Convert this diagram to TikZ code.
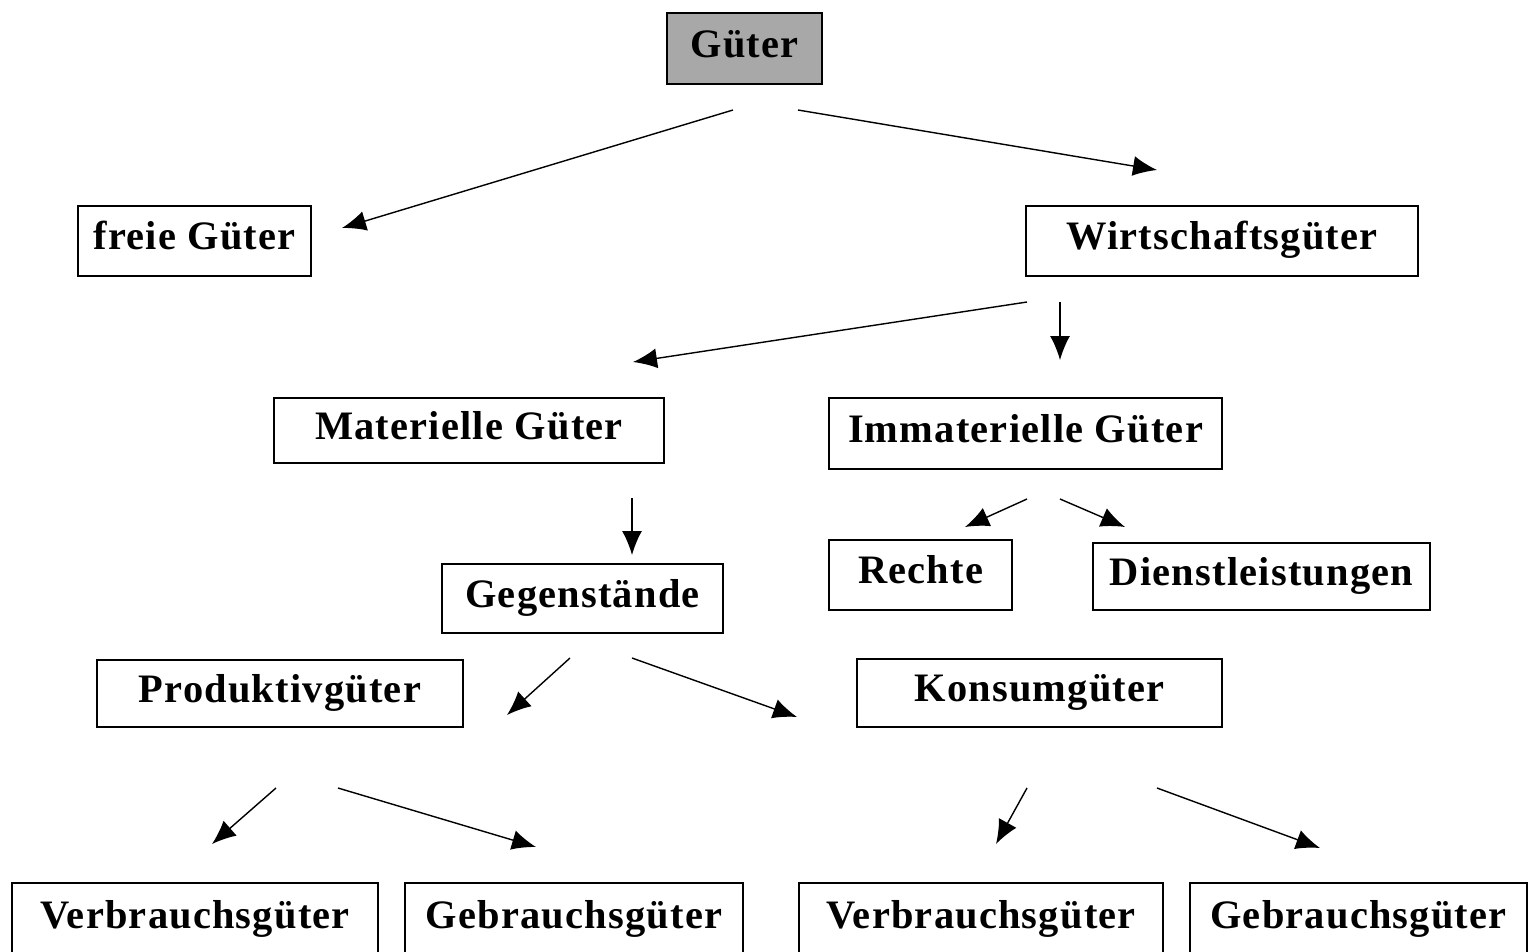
\documentclass[tikz,border=0pt]{standalone}
\usepackage{fontspec}
\setmainfont{Liberation Serif}
\usetikzlibrary{arrows.meta}

\definecolor{boxgray}{RGB}{168,168,168}

\tikzset{
  box/.style={draw, line width=1.1pt, inner sep=0pt, text height=0.5cm, text depth=0.16cm,
    font=\fontsize{23pt}{27pt}\selectfont\bfseries\addfontfeatures{LetterSpace=3}},
  arr/.style={line width=0.8pt, -{Latex[length=0.48cm, width=0.4cm]}}
}

\begin{document}
\begin{tikzpicture}[x=0.02cm, y=-0.02cm]
  \useasboundingbox (0,0) rectangle (1530,951);

  % top levels
  \node[box, fill=boxgray, minimum width=3.1cm, minimum height=1.42cm] (gueter) at (744.5,48.5) {Güter};
  \node[box, minimum width=4.66cm, minimum height=1.4cm] (freie) at (194.5,241) {freie Güter};
  \node[box, minimum width=7.84cm, minimum height=1.4cm] (wirt) at (1222,241) {Wirtschaftsgüter};
  \node[box, minimum width=7.8cm, minimum height=1.3cm] (mat) at (469,430.5) {Materielle Güter};
  \node[box, minimum width=7.86cm, minimum height=1.42cm] (immat) at (1025.5,433.5) {Immaterielle Güter};
  \node[box, minimum width=3.66cm, minimum height=1.4cm] (rechte) at (920.5,575) {Rechte};
  \node[box, minimum width=6.74cm, minimum height=1.34cm] (dienst) at (1261.5,576.5) {Dienstleistungen};
  \node[box, minimum width=5.62cm, minimum height=1.38cm] (gegen) at (582.5,598.5) {Gegenstände};
  \node[box, minimum width=7.32cm, minimum height=1.34cm] (prod) at (280,693.5) {Produktivgüter};
  \node[box, minimum width=7.3cm, minimum height=1.36cm] (konsum) at (1039.5,693) {Konsumgüter};

  % bottom row
  \node[box, minimum width=7.32cm, minimum height=1.48cm] (verbrL) at (195,920) {Verbrauchsgüter};
  \node[box, minimum width=6.76cm, minimum height=1.48cm] (gebrL) at (574,920) {Gebrauchsgüter};
  \node[box, minimum width=7.28cm, minimum height=1.48cm] (verbrR) at (981,920) {Verbrauchsgüter};
  \node[box, minimum width=6.74cm, minimum height=1.48cm] (gebrR) at (1358.5,920) {Gebrauchsgüter};

  % arrow ends
  \coordinate (a1s) at (733,110);  \coordinate (a1e) at (342,228);
  \coordinate (a2s) at (798,110);  \coordinate (a2e) at (1157,170);
  \coordinate (a3s) at (1027,302); \coordinate (a3e) at (633,362);
  \coordinate (a4s) at (1060,302); \coordinate (a4e) at (1060,360);
  \coordinate (a5s) at (632,498);  \coordinate (a5e) at (632,555);
  \coordinate (a6s) at (1027,499); \coordinate (a6e) at (965,527);
  \coordinate (a7s) at (1060,499); \coordinate (a7e) at (1125,527);
  \coordinate (a8s) at (570,658);  \coordinate (a8e) at (507,715);
  \coordinate (a9s) at (632,658);  \coordinate (a9e) at (797,717);
  \coordinate (a10s) at (276,788); \coordinate (a10e) at (212,844);
  \coordinate (a11s) at (338,788); \coordinate (a11e) at (536,847);
  \coordinate (a12s) at (1027,788); \coordinate (a12e) at (996,844);
  \coordinate (a13s) at (1157,788); \coordinate (a13e) at (1320,848);

  \foreach \i in {1,...,13}
    \draw[arr] (a\i s) -- (a\i e);
\end{tikzpicture}
\end{document}
